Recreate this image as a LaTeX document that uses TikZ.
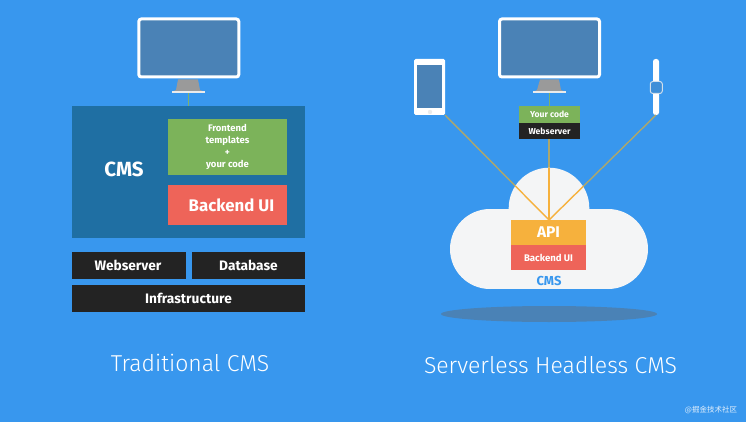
\documentclass[tikz,border=0pt]{standalone}
\usepackage{fontspec}
\setmainfont{Fira Sans}
\newfontfamily\lightf{Fira Sans Light}
\newfontfamily\cjk{Noto Sans CJK SC}
\usetikzlibrary{shapes.geometric}
\definecolor{bgblue}{HTML}{3897EE}
\definecolor{screen}{HTML}{4A82B6}
\definecolor{cmsblue}{HTML}{1F6FA3}
\definecolor{leaf}{HTML}{7CB35A}
\definecolor{salmon}{HTML}{EE6459}
\definecolor{ink}{HTML}{232323}
\definecolor{amber}{HTML}{F6B13D}
\definecolor{cloudw}{HTML}{F4F5F6}
\definecolor{standg}{HTML}{9A9A9A}
\definecolor{wire}{HTML}{ADA76C}
\definecolor{wiregreen}{HTML}{7FB16A}
\tikzset{
  x=1pt,y=-1pt,
  box/.style={anchor=north west,inner sep=0pt,outer sep=0pt,text=white,font=\bfseries,align=center},
  monitor/.style={draw=white,line width=3pt,fill=screen,rounded corners=2.5pt,minimum width=100pt,minimum height=58pt,inner sep=0pt,outer sep=1.5pt},
  neck/.style={fill=standg},
  wireline/.style={line width=1.4pt,color=wire},
  hot/.style={line width=1.4pt,color=amber},
  title/.style={text=white,font=\lightf\fontsize{23}{26}\selectfont},
  barlabel/.style={text=white,font=\fontsize{13.7}{16}\bfseries\selectfont}
}
\begin{document}
\begin{tikzpicture}
\useasboundingbox (0,0) rectangle (746,422);
\fill[bgblue] (0,0) rectangle (746,422);
% left monitor
\node[monitor] (monL) at (188.8,48) {};
\fill[neck] (178,79.5) -- (198,79.5) -- (200,90) -- (205,92) -- (172,92) -- (176,90) -- cycle;
\fill[white!80!standg] (172,91.5) rectangle (205,93);
\coordinate (standL) at (188,93);
% CMS
\node[box,fill=cmsblue,minimum width=233pt,minimum height=132pt] (cms) at (72,106) {};
\draw[wiregreen,line width=1pt] (standL) -- (standL |- cms.north);
\node[text=white,font=\fontsize{20.5}{24}\bfseries\selectfont] (cmslabel) at (124,169) {CMS};
\node[box,fill=leaf,minimum width=119pt,minimum height=56pt] (front) at (168,119) {};
\node[text=white,align=center,font=\fontsize{9.5}{12}\bfseries\selectfont] (frontlabel) at (227.5,146.5) {Frontend\\templates\\+\\your code};
\node[box,fill=salmon,minimum width=119pt,minimum height=40pt] (back) at (168,185) {};
\node[text=white,font=\fontsize{16.8}{20}\bfseries\selectfont] (backlabel) at (231.5,205) {Backend UI};
\node[box,fill=ink,minimum width=114pt,minimum height=26.5pt] (web) at (72,252) {};
\node[barlabel] (weblabel) at (128,265) {Webserver};
\node[box,fill=ink,minimum width=113pt,minimum height=26.5pt] (db) at (192,252) {};
\node[barlabel] (dblabel) at (248.5,265) {Database};
\node[box,fill=ink,minimum width=233pt,minimum height=27pt] (infra) at (72,285) {};
\node[barlabel] (infralabel) at (188.5,298) {Infrastructure};
\node[title] (t1) at (190,363) {Traditional CMS};
% right side devices
\coordinate (hub) at (549,220);
\node[monitor] (monR) at (549.5,48) {};
\fill[neck] (540,79.5) -- (559,79.5) -- (561,90) -- (566,92) -- (533,92) -- (537,90) -- cycle;
\fill[white!80!standg] (533,91.5) rectangle (566,93);
\coordinate (standR) at (549,93);
% phone
\node[fill=white,rounded corners=1.5pt,minimum width=31pt,minimum height=56pt,inner sep=0pt,outer sep=0pt] (phone) at (429.5,87) {};
\fill[screen] (417.3,65) rectangle (442.3,108);
\fill[white!80!standg] (430,112) circle (2.2);
% watch
\node[fill=white,rounded corners=2.5pt,minimum width=6pt,minimum height=56pt,inner sep=0pt,outer sep=0pt] (watch) at (656,87) {};
\node[draw=white!75!screen,fill=bgblue!60!screen,line width=1pt,rounded corners=2.5pt,minimum width=12pt,minimum height=12pt,inner sep=0pt] (face) at (656.3,87.5) {};
% stack
\node[box,fill=leaf,minimum width=61pt,minimum height=17pt,font=\fontsize{8.6}{11}\bfseries\selectfont] (code) at (519,106) {Your code};
\node[box,fill=ink,minimum width=61pt,minimum height=16.5pt,font=\fontsize{8.6}{11}\bfseries\selectfont] (srv) at (519,123) {Webserver};
\draw[wiregreen,line width=1pt] (standR) -- (standR |- code.north);
\draw[wireline] (srv.south -| hub) -- (hub);
\draw[wireline] (phone.south east) -- (hub);
\draw[wireline] (watch.south) -- (hub);
% cloud
\fill[cloudw] (549,208) circle (40.3);
\fill[cloudw] (490,249) circle (40);
\fill[cloudw] (608,249) circle (40);
\fill[cloudw] (490,209) rectangle (608,289);
\begin{scope}
\clip (549,208) circle (40.3);
\draw[hot] (srv.south -| hub) -- (hub);
\draw[hot] (phone.south east) -- (hub);
\draw[hot] (watch.south) -- (hub);
\end{scope}
\node[box,fill=amber,minimum width=75pt,minimum height=25pt,font=\fontsize{15.5}{18}\bfseries\selectfont] (api) at (511,220) {API};
\node[box,fill=salmon,minimum width=75pt,minimum height=25pt,font=\fontsize{9.6}{12}\bfseries\selectfont] (bui) at (511,245) {Backend UI};
\node[text=bgblue,font=\fontsize{13}{15}\bfseries\selectfont] (cl) at (549,280.5) {CMS};
\node[ellipse,fill=screen,minimum width=216pt,minimum height=16pt,inner sep=0pt] (shadow) at (549,314) {};
\node[title] (t2) at (550.5,365) {Serverless Headless CMS};
\node[text=white!85!bgblue,font=\cjk\fontsize{7.5}{9}\selectfont,inner sep=0pt] (wm) at (711,410) {@掘金技术社区};
\end{tikzpicture}
\end{document}
